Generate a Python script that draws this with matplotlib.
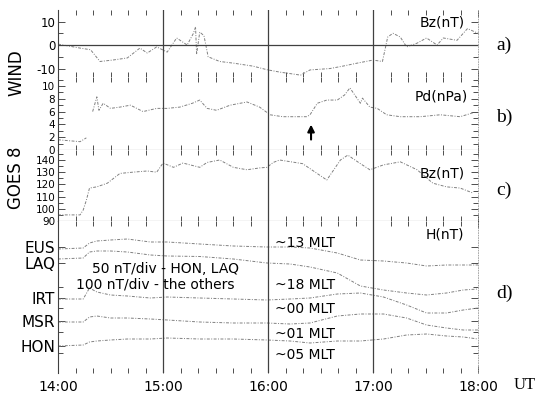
import numpy as np
import matplotlib.pyplot as plt
from matplotlib.ticker import MultipleLocator, FixedLocator

# ---- panel a : WIND Bz (nT) ----
t_a = [14.00, 14.21, 14.31, 14.40, 14.52, 14.66, 14.78, 14.85, 14.94, 15.04,
       15.13, 15.23, 15.29, 15.31, 15.32, 15.35, 15.39, 15.43, 15.54, 15.67,
       15.86, 15.99, 16.11, 16.31, 16.40, 16.59, 16.71, 16.85, 17.00, 17.09,
       17.14, 17.19, 17.26, 17.32, 17.42, 17.51, 17.61, 17.67, 17.80, 17.90, 18.00]
bz_wind = [0.4, -1.3, -2.0, -7.0, -6.4, -5.5, -1.3, -3.4, -0.8, -3.0,
           3.0, 0.0, 5.0, 7.7, -4.0, 5.5, 4.0, -5.0, -7.0, -7.7,
           -9.0, -10.5, -11.5, -12.8, -10.6, -10.0, -9.0, -7.7, -6.4, -7.0,
           3.4, 5.0, 3.4, -0.8, 0.8, 3.0, 0.0, 3.0, 2.0, 7.0, 5.0]

# ---- panel b : WIND Pd (nPa) ----
t_b = [14.00, 14.21, 14.27, 14.30, 14.33, 14.37, 14.39, 14.43, 14.50, 14.59,
       14.69, 14.81, 14.94, 15.04, 15.16, 15.28, 15.35, 15.42, 15.51, 15.64,
       15.80, 15.92, 16.02, 16.14, 16.37, 16.40, 16.47, 16.56, 16.66, 16.73,
       16.78, 16.88, 16.90, 16.97, 17.04, 17.13, 17.26, 17.45, 17.64, 17.83, 17.95]
pd_wind = [1.6, 1.3, 1.9, np.nan, 6.0, 8.3, 6.2, 7.3, 6.5, 6.7,
           7.0, 6.0, 6.5, 6.5, 6.7, 7.3, 7.8, 6.5, 6.2, 7.0,
           7.5, 6.7, 5.5, 5.2, 5.2, 5.5, 7.3, 7.8, 7.8, 8.6,
           9.7, 7.3, 8.1, 6.7, 6.5, 5.5, 5.2, 5.2, 5.5, 5.2, 5.8]

# ---- panel c : GOES 8 Bz (nT) ----
t_c = [14.00, 14.21, 14.24, 14.27, 14.30, 14.37, 14.47, 14.59, 14.71, 14.85,
       14.94, 15.00, 15.10, 15.19, 15.35, 15.42, 15.54, 15.67, 15.80, 15.92,
       15.99, 16.05, 16.11, 16.33, 16.56, 16.69, 16.76, 16.88, 16.97, 17.10,
       17.26, 17.42, 17.57, 17.70, 17.83, 17.95]
bz_goes = [95, 95, 99, 107, 117, 118, 121, 129, 130, 131,
           130, 137.5, 134, 137.5, 134, 138, 140, 134, 132, 133.5,
           134, 138, 140, 137, 123.6, 140, 144, 137, 132, 136,
           138.5, 132, 121, 118, 117, 113]

# ---- panel d : ground H, stacked (arbitrary offset) ----
t_d = [14.00, 14.24, 14.30, 14.37, 14.50, 14.66, 14.88, 15.04, 15.35, 15.67,
       15.99, 16.21, 16.40, 16.66, 16.88, 17.10, 17.32, 17.51, 17.70, 17.86, 18.00]
h_eus = [124, 125, 130, 132, 133, 134, 131, 131, 129, 127,
         126, 126, 125, 120, 113, 112, 110, 107, 108, 108, 108]
h_laq = [114, 115, 121, 122, 122, 121, 118, 117, 116.5, 114,
         110, 109, 106, 100, 87, 83, 80, 78, 80, 83, 84]
h_irt = [74, 74, 85, 81, 78, 77, 75, 76, 75, 74,
         73, 74, 75, 79, 80, 76, 68, 60, 60, 63, 65]
h_msr = [51, 51, 56, 57, 55, 55, 54, 53, 51, 50,
         50, 49, 50, 57, 59, 59, 55, 48, 45, 43, 43]
h_hon = [27, 28, 31, 32, 33, 34, 34, 35, 34, 34,
         33, 32, 30, 32, 32, 34, 38, 39, 37, 36, 34]

stations = ['EUS', 'LAQ', 'IRT', 'MSR', 'HON']
station_pos = [126, 110, 75, 52, 27]
mlt_labels = ['~13 MLT', '~18 MLT', '~00 MLT', '~01 MLT', '~05 MLT']
mlt_pos = [130, 88, 64, 39, 18]

plt.rcParams['font.family'] = 'DejaVu Sans'
plt.rcParams['axes.unicode_minus'] = False
fig = plt.figure(figsize=(5.37, 3.99), dpi=100)

W, H = 537.0, 399.0
x0, x1 = 58, 478
rows = [(10, 77), (77, 150), (150, 221), (221, 373)]
axes = []
for top, bot in rows:
    ax = fig.add_axes([x0 / W, 1 - bot / H, (x1 - x0) / W, (bot - top) / H])
    axes.append(ax)
ax_a, ax_b, ax_c, ax_d = axes

line_kw = dict(color='0.5', lw=0.7, ls=(0, (3, 1.5, 1, 1.5)))
ax_a.plot(t_a, bz_wind, **line_kw)
ax_b.plot(t_b, pd_wind, **line_kw)
ax_c.plot(t_c, bz_goes, **line_kw)
for h in (h_eus, h_laq, h_irt, h_msr, h_hon):
    ax_d.plot(t_d, h, **line_kw)

ax_a.set_ylim(-13.6, 14.9)
ax_b.set_ylim(0, 11.4)
ax_c.set_ylim(90, 148.2)
ax_d.set_ylim(0, 152)

ax_a.set_yticks([-10, 0, 10])
ax_a.yaxis.set_minor_locator(MultipleLocator(5))
ax_b.set_yticks([0, 2, 4, 6, 8, 10])
ax_b.yaxis.set_minor_locator(MultipleLocator(1))
ax_c.set_yticks([90, 100, 110, 120, 130, 140])
ax_c.yaxis.set_minor_locator(MultipleLocator(5))
ax_d.set_yticks(station_pos)
ax_d.set_yticklabels(stations)
ax_d.yaxis.set_minor_locator(FixedLocator([86, 65, 41, 20]))

ax_a.axhline(0, color='0.25', lw=0.9)

for ax in axes:
    ax.set_xlim(14, 18)
    for xv in (15, 16, 17):
        ax.axvline(xv, color='0.25', lw=0.9)
    ax.xaxis.set_minor_locator(MultipleLocator(1 / 6))
    ax.set_xticks([14, 15, 16, 17, 18])
    ax.spines['top'].set_visible(False)
    ax.spines['right'].set_color('0.6')
    ax.spines['right'].set_linestyle((0, (1, 2)))
    ax.spines['right'].set_linewidth(0.6)
    ax.spines['left'].set_color('0.25')
    ax.spines['bottom'].set_color('0.25')
    ax.tick_params(axis='both', which='both', direction='in', color='0.3',
                   top=True, right=True, width=0.7)
    ax.tick_params(axis='both', which='major', length=5)
    ax.tick_params(axis='both', which='minor', length=3.5)
    ax.tick_params(axis='y', labelsize=7.5, pad=2)
    if ax is not ax_d:
        ax.tick_params(axis='x', labelbottom=False)

ax_a.tick_params(axis='y', labelsize=8.5)
ax_a.spines['bottom'].set_visible(False)
ax_d.spines['bottom'].set_visible(False)
ax_d.set_xticklabels(['14:00', '15:00', '16:00', '17:00', '18:00'])
ax_d.tick_params(axis='x', labelsize=10, pad=5)
ax_d.tick_params(axis='y', labelsize=11, pad=2)

# panel labels inside axes
ax_a.text(17.87, 9.4, 'Bz(nT)', ha='right', va='center', fontsize=10)
ax_b.text(17.9, 8.3, 'Pd(nPa)', ha='right', va='center', fontsize=10)
ax_c.text(17.87, 129, 'Bz(nT)', ha='right', va='center', fontsize=10)
ax_d.text(17.87, 138, 'H(nT)', ha='right', va='center', fontsize=10)

ax_b.annotate('', xy=(16.41, 4.4), xytext=(16.41, 1.2),
              arrowprops=dict(arrowstyle='-|>', color='black', lw=1.5,
                              mutation_scale=10))

ax_d.text(15.02, 104, '50 nT/div - HON, LAQ', ha='center', va='center', fontsize=10)
ax_d.text(14.93, 88, '100 nT/div - the others', ha='center', va='center', fontsize=10)
for lab, yv in zip(mlt_labels, mlt_pos):
    ax_d.text(16.07, yv, lab, ha='left', va='center', fontsize=10)

fig.text(16 / W, 1 - 73 / H, 'WIND', rotation=90, ha='center', va='center', fontsize=12)
fig.text(16 / W, 1 - 178 / H, 'GOES 8', rotation=90, ha='center', va='center', fontsize=12)

serif = dict(family='Liberation Serif', fontsize=14, ha='left', va='center')
fig.text(496 / W, 1 - 45 / H, 'a)', **serif)
fig.text(496 / W, 1 - 117 / H, 'b)', **serif)
fig.text(496 / W, 1 - 190 / H, 'c)', **serif)
fig.text(496 / W, 1 - 293 / H, 'd)', **serif)
fig.text(514 / W, 1 - 385 / H, 'UT', family='Liberation Serif', fontsize=12,
         ha='left', va='center')

fig.savefig('out.png', dpi=100)
